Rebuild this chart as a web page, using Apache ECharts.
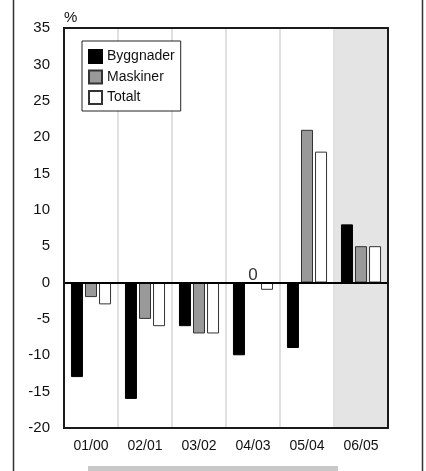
<!DOCTYPE html>
<html>
<head>
<meta charset="utf-8">
<script src="https://cdn.jsdelivr.net/npm/echarts@6/dist/echarts.min.js"></script>
<style>
html,body{margin:0;padding:0;background:#fff;}
#c{width:426px;height:471px;}
</style>
</head>
<body>
<div id="c"></div>
<script>
var categories = ['01/00','02/01','03/02','04/03','05/04','06/05'];
var byggnader = [-13, -16, -6, -10, -9, 8];
var maskiner = [-2, -5, -7, 0, 21, 5];
var totalt = [-3, -6, -7, -1, 18, 5];
var yTicks = { min: -20, max: 35, interval: 5 };
var unitLabel = '%';
var zeroLabelIndex = 3;

var font = 'Liberation Sans, Arial, sans-serif';
var chart = echarts.init(document.getElementById('c'), null, { renderer: 'canvas' });

var maskData = maskiner.map(function (v, i) {
  if (i === zeroLabelIndex) {
    return { value: v, label: { show: true, position: 'top', distance: 0, offset: [0, 2], formatter: '{c}', fontSize: 17, color: '#333', fontFamily: font } };
  }
  return v;
});

chart.setOption({
  animation: false,
  textStyle: { fontFamily: font },
  grid: { left: 64, right: 38, top: 28, bottom: 43, show: false },
  legend: {
    orient: 'vertical', left: 82, top: 41,
    padding: [8, 6, 6, 6],
    icon: 'rect',
    itemWidth: 13, itemHeight: 13, itemGap: 5.5,
    borderColor: '#222', borderWidth: 1, backgroundColor: '#fff',
    textStyle: { fontSize: 14, color: '#111', fontFamily: font },
    data: ['Byggnader', 'Maskiner', 'Totalt']
  },
  xAxis: {
    type: 'category', data: categories, boundaryGap: true,
    axisLine: { show: false, onZero: false },
    axisTick: { show: false },
    axisLabel: { fontSize: 14, color: '#111', margin: 11, fontFamily: font },
    splitLine: { show: true, interval: 0, lineStyle: { color: '#e0e0e0', width: 2 } },
    splitArea: { show: true, interval: 0, areaStyle: { color: ['#ffffff', '#ffffff', '#ffffff', '#ffffff', '#ffffff', '#e4e4e4'] } }
  },
  yAxis: {
    type: 'value', min: yTicks.min, max: yTicks.max, interval: yTicks.interval,
    axisLine: { show: false }, axisTick: { show: false },
    axisLabel: { fontSize: 15, color: '#111', margin: 14, fontFamily: font },
    splitLine: { show: true, lineStyle: { color: '#dcdcdc', width: 2 } }
  },
  graphic: [
    { type: 'text', left: 64, top: 10, style: { text: unitLabel, fontSize: 15, fill: '#111', fontFamily: font } },
    { type: 'line', shape: { x1: 13.5, y1: 0, x2: 13.5, y2: 471 }, style: { stroke: '#333', lineWidth: 1.5 } },
    { type: 'line', shape: { x1: 422.5, y1: 0, x2: 422.5, y2: 471 }, style: { stroke: '#333', lineWidth: 1.5 } },
    { type: 'rect', shape: { x: 88, y: 466, width: 250, height: 6 }, style: { fill: '#c8c8c8' } },
    { type: 'rect', z: 100, silent: true, shape: { x: 64, y: 28, width: 324, height: 400 }, style: { fill: 'none', stroke: '#1a1a1a', lineWidth: 2 } }
  ],
  series: [
    {
      name: 'Byggnader', type: 'bar', data: byggnader, barWidth: 12, barGap: '17%',
      itemStyle: { color: '#000', borderColor: '#000', borderWidth: 1 },
      markLine: { silent: true, symbol: 'none', label: { show: false }, lineStyle: { color: '#000', width: 2, type: 'solid' }, data: [{ yAxis: 0 }] }
    },
    {
      name: 'Maskiner', type: 'bar', data: maskData, barWidth: 12, barGap: '17%',
      itemStyle: { color: '#999999', borderColor: '#333', borderWidth: 1 }
    },
    {
      name: 'Totalt', type: 'bar', data: totalt, barWidth: 12, barGap: '17%',
      itemStyle: { color: '#ffffff', borderColor: '#333', borderWidth: 1 }
    }
  ]
});
</script>
</body>
</html>
